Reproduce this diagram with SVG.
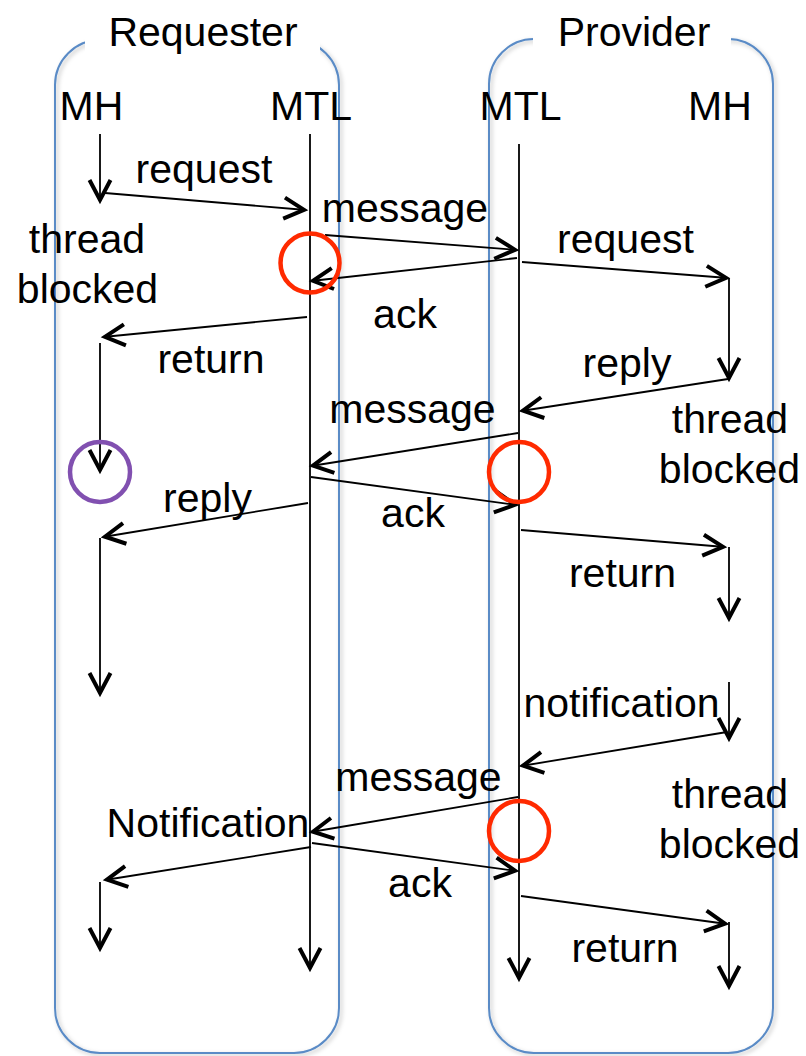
<svg xmlns="http://www.w3.org/2000/svg" width="806" height="1056" viewBox="0 0 806 1056">
<defs>
<style>
.box{fill:none;stroke:#5A8BC6;stroke-width:2}
.ln{stroke:#000;stroke-width:1.8;fill:none}
.ar{marker-end:url(#ah)}
text{font-family:"Liberation Sans",Arial,sans-serif;font-size:41px;fill:#000;text-anchor:middle}
.rc{fill:none;stroke:#FF2A00;stroke-width:4.5}
.pc{fill:none;stroke:#8150B0;stroke-width:4.5}
</style>
<filter id="sh" x="-10%" y="-10%" width="120%" height="120%">
<feDropShadow dx="2" dy="2" stdDeviation="2" flood-color="#000" flood-opacity="0.25"/>
</filter>
<marker id="ah" markerUnits="userSpaceOnUse" viewBox="-26 -15 32 30" markerWidth="32" markerHeight="30" refX="2" refY="0" orient="auto">
<path d="M-20,-10.5 L0,0 L-20,10.5" fill="none" stroke="#000" stroke-width="4"/>
</marker>
</defs>
<rect width="806" height="1056" fill="#fff"/>
<g id="requester">
<rect class="box" x="55" y="40" width="284" height="1013" rx="45" ry="45" filter="url(#sh)"/>
<rect x="85" y="22" width="235" height="34" fill="#fff"/>
<text x="203" y="46">Requester</text>
</g>
<g id="provider">
<rect class="box" x="489" y="39" width="284" height="1014" rx="45" ry="45" filter="url(#sh)"/>
<rect x="533" y="22" width="198" height="34" fill="#fff"/>
<text x="634" y="46">Provider</text>
</g>
<g id="req-mh"><text x="91.5" y="120">MH</text></g>
<g id="req-mtl"><text x="311" y="120">MTL</text></g>
<g id="prov-mtl"><text x="520.5" y="120">MTL</text></g>
<g id="prov-mh"><text x="720" y="120">MH</text></g>
<g id="labels">
<text x="87" y="253">thread</text>
<text x="87.5" y="303">blocked</text>
<text x="730" y="433">thread</text>
<text x="729.5" y="483">blocked</text>
<text x="730" y="808">thread</text>
<text x="729.5" y="858">blocked</text>
<text x="204" y="183">request</text>
<text x="405" y="222">message</text>
<text x="625.5" y="253">request</text>
<text x="405" y="328">ack</text>
<text x="211" y="373">return</text>
<text x="627" y="377">reply</text>
<text x="412.5" y="423">message</text>
<text x="413" y="527">ack</text>
<text x="207.5" y="512">reply</text>
<text x="622.5" y="587">return</text>
<text x="621.5" y="717">notification</text>
<text x="418.5" y="791">message</text>
<text x="208" y="837">Notification</text>
<text x="420" y="897">ack</text>
<text x="625" y="962">return</text>
</g>
<g id="connectors">
<line class="ln ar" x1="100" y1="134" x2="100" y2="202"/>
<line class="ln ar" x1="100" y1="343" x2="100" y2="472"/>
<line class="ln ar" x1="100" y1="538" x2="100" y2="695"/>
<line class="ln ar" x1="100" y1="882" x2="100" y2="950"/>
<line class="ln ar" x1="310" y1="134" x2="310" y2="970"/>
<line class="ln ar" x1="519" y1="144" x2="519" y2="980"/>
<line class="ln ar" x1="729" y1="278" x2="729" y2="380"/>
<line class="ln ar" x1="729" y1="547" x2="729" y2="620"/>
<line class="ln ar" x1="729" y1="682" x2="729" y2="740"/>
<line class="ln ar" x1="729" y1="922" x2="729" y2="988"/>
<line class="ln ar" x1="105" y1="193" x2="306" y2="210"/>
<line class="ln ar" x1="325" y1="235" x2="517" y2="250"/>
<line class="ln ar" x1="517" y1="258" x2="311" y2="281"/>
<line class="ln ar" x1="522" y1="262" x2="728" y2="278"/>
<line class="ln ar" x1="307" y1="317" x2="103" y2="337"/>
<line class="ln ar" x1="728" y1="379" x2="521" y2="411"/>
<line class="ln ar" x1="518" y1="433" x2="311" y2="466"/>
<line class="ln ar" x1="311" y1="477" x2="517" y2="505"/>
<line class="ln ar" x1="308" y1="503" x2="103" y2="537"/>
<line class="ln ar" x1="521" y1="530" x2="725" y2="547"/>
<line class="ln ar" x1="727" y1="732" x2="521" y2="766"/>
<line class="ln ar" x1="518" y1="797" x2="311" y2="832"/>
<line class="ln ar" x1="312" y1="843" x2="517" y2="871"/>
<line class="ln ar" x1="311" y1="847" x2="105" y2="880"/>
<line class="ln ar" x1="521" y1="896" x2="727" y2="924"/>
</g>
<g id="markers">
<circle class="rc" cx="310" cy="263" r="29.5"/>
<circle class="pc" cx="100" cy="472" r="30"/>
<circle class="rc" cx="519" cy="472" r="30"/>
<circle class="rc" cx="519" cy="831" r="30"/>
</g>
</svg>
